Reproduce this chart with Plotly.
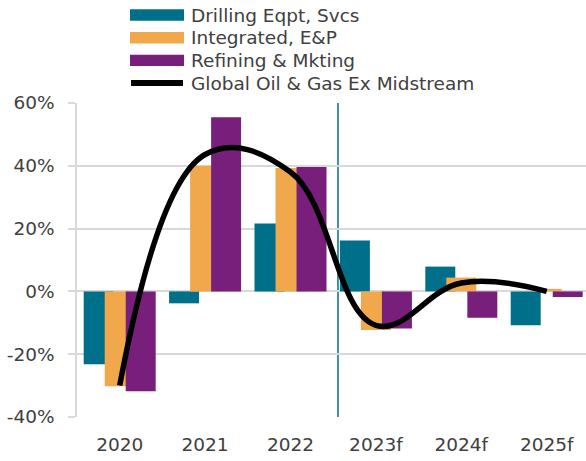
import plotly.graph_objects as go

# Annual total return by segment (%)
years = ["2020", "2021", "2022", "2023f", "2024f", "2025f"]
drilling = [-23.2, -3.8, 21.6, 16.2, 7.9, -10.8]
integrated = [-30.2, 40.0, 39.3, -12.3, 4.4, 0.8]
refining = [-31.8, 55.5, 39.6, -11.8, -8.4, -1.8]
global_ex_midstream = [-30.0, 43.6, 38.0, -10.8, 2.7, 0.0]

y_ticks = [-40, -20, 0, 20, 40, 60]
y_tick_labels = ["-40%", "-20%", "0%", "20%", "40%", "60%"]

series_names = ["Drilling Eqpt, Svcs", "Integrated, E&P", "Refining & Mkting"]
line_name = "Global Oil & Gas Ex Midstream"

TEAL = "#006f89"
ORANGE = "#f1a74b"
PURPLE = "#781f7c"
GRID = "#d9d9d9"
TEXT = "#404040"
FONT = "DejaVu Sans"
FONT_SIZE = 18.5

W, H = 586, 461
M_L, M_R, M_T, M_B = 77, 0, 103, 44
PLOT_W = W - M_L - M_R
PLOT_H = H - M_T - M_B


def px_x(px):
    return (px - M_L) / PLOT_W


def px_y(py):
    return (H - M_B - py) / PLOT_H


bar_w = 0.351
step = 0.246
fig = go.Figure()
for i, (vals, col, name) in enumerate(zip([drilling, integrated, refining],
                                           [TEAL, ORANGE, PURPLE], series_names)):
    fig.add_trace(go.Bar(
        x=years, y=vals, name=name, marker_color=col, marker_line_width=0,
        width=bar_w, offset=(i - 1) * step - bar_w / 2, showlegend=False,
    ))

fig.add_trace(go.Scatter(
    x=years, y=global_ex_midstream, name=line_name, mode="lines",
    line=dict(color="black", width=5.5, shape="spline", smoothing=1.15),
    showlegend=False,
))

shapes = [
    # actual / forecast divider
    dict(type="line", xref="x", yref="paper", x0=2.556, x1=2.556, y0=0, y1=1,
         line=dict(color=TEAL, width=1.5), layer="below"),
]
annotations = []

# legend drawn as swatches + labels
rows = [15, 37.7, 60.4, 83.1]
legend_font = dict(size=FONT_SIZE, color=TEXT, family=FONT)
for cy, col, name in zip(rows[:3], [TEAL, ORANGE, PURPLE], series_names):
    shapes.append(dict(type="rect", xref="paper", yref="paper",
                       x0=px_x(130), x1=px_x(184), y0=px_y(cy - 5.7), y1=px_y(cy + 5.7),
                       fillcolor=col, line=dict(width=0)))
    annotations.append(dict(text=name, xref="paper", yref="paper", x=px_x(189),
                            y=px_y(cy), xanchor="left", yanchor="middle",
                            showarrow=False, font=legend_font))
shapes.append(dict(type="line", xref="paper", yref="paper",
                   x0=px_x(131), x1=px_x(183), y0=px_y(rows[3]), y1=px_y(rows[3]),
                   line=dict(color="black", width=6)))
annotations.append(dict(text=line_name, xref="paper", yref="paper", x=px_x(189),
                        y=px_y(rows[3]), xanchor="left", yanchor="middle",
                        showarrow=False, font=legend_font))

fig.update_layout(
    width=W, height=H,
    margin=dict(l=M_L, r=M_R, t=M_T, b=M_B, pad=0),
    barmode="overlay",
    plot_bgcolor="white", paper_bgcolor="white",
    font=dict(family=FONT, size=FONT_SIZE, color=TEXT),
    shapes=shapes, annotations=annotations,
    xaxis=dict(type="category", range=[-0.5, 5.46], showgrid=False, showline=False,
               ticks="", ticklabelstandoff=14,
               tickfont=dict(size=FONT_SIZE, color=TEXT, family=FONT)),
    yaxis=dict(range=[-40, 60], tickvals=y_ticks, ticktext=y_tick_labels,
               showgrid=True, gridcolor=GRID, gridwidth=1.5,
               showline=True, linecolor=GRID, linewidth=1.5,
               ticks="outside", ticklen=7, tickcolor=GRID, tickwidth=1.5,
               ticklabelstandoff=10, zeroline=False,
               tickfont=dict(size=FONT_SIZE, color=TEXT, family=FONT)),
)

fig.write_html("out.html")
